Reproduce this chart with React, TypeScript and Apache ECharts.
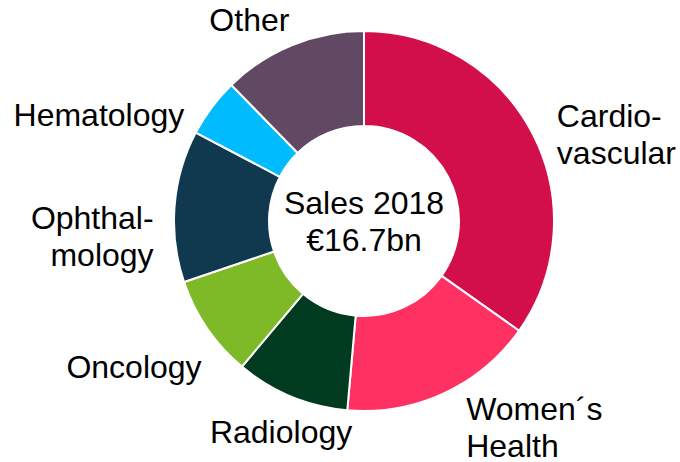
import React, { useEffect, useRef } from "react";
import * as echarts from "echarts";

const categories = [
  "Cardio-\nvascular",
  "Women´s\nHealth",
  "Radiology",
  "Oncology",
  "Ophthal-\nmology",
  "Hematology",
  "Other",
];
const shares = [34.8, 16.6, 9.7, 8.7, 12.9, 5.0, 12.3];
const colors = ["#D30F4B", "#FF3162", "#003A1F", "#7EBA27", "#10384F", "#00BCFF", "#624963"];
const centerLines = ["Sales 2018", "€16.7bn"];

// label nudges [dx, dy] relative to the default outside position
const labelNudges: [number, number][] = [
  [4, 4],
  [6, 27],
  [77, 28],
  [14, 34],
  [0, 31],
  [-8, 12],
  [13, -18],
];

const FONT = "'Liberation Sans', Arial, sans-serif";

export default function App() {
  const ref = useRef<HTMLDivElement>(null);
  useEffect(() => {
    if (!ref.current) return;
    const chart = echarts.init(ref.current, undefined, { renderer: "svg" });
    chart.setOption({
      animation: false,
      backgroundColor: "#ffffff",
      graphic: [
        {
          type: "text",
          x: 364,
          y: 221,
          z: 100,
          style: {
            text: centerLines.join("\n"),
            font: `32px ${FONT}`,
            fill: "#000",
            align: "center",
            verticalAlign: "middle",
            lineHeight: 37,
          },
        },
      ],
      series: [
        {
          type: "pie",
          center: [364, 221],
          radius: [95, 190],
          startAngle: 90,
          clockwise: true,
          itemStyle: { borderColor: "#ffffff", borderWidth: 2 },
          label: {
            show: true,
            position: "outside",
            fontSize: 32,
            fontFamily: FONT,
            color: "#000",
            lineHeight: 37,
            overflow: "none",
            width: 300,
          },
          labelLine: { show: false, length: 8, length2: 8 },
          labelLayout: (p: any) => ({
            dx: labelNudges[p.dataIndex][0],
            dy: labelNudges[p.dataIndex][1],
          }),
          emphasis: { disabled: true },
          data: categories.map((c, i) => ({
            name: c,
            value: shares[i],
            itemStyle: { color: colors[i] },
          })),
        },
      ],
    });
    return () => chart.dispose();
  }, []);
  return (
    <div
      ref={ref}
      style={{ position: "fixed", left: 0, top: 0, width: 680, height: 462 }}
    />
  );
}
